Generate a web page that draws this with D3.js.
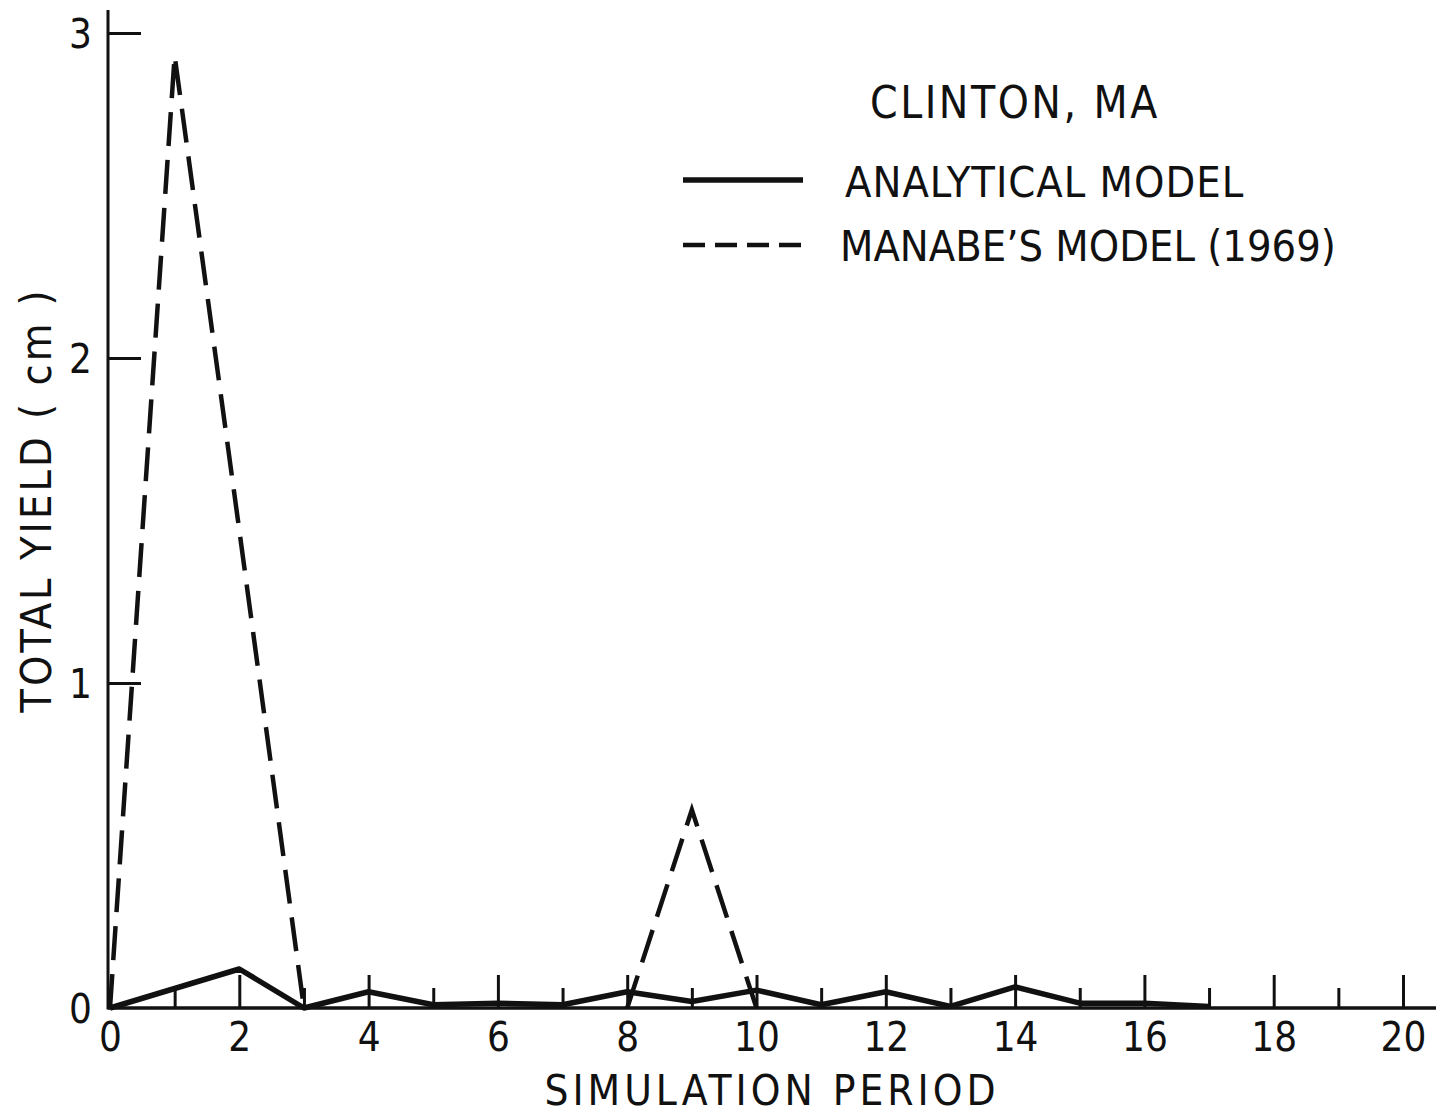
<!DOCTYPE html>
<html>
<head>
<meta charset="utf-8">
<script src="https://cdn.jsdelivr.net/npm/d3@7"></script>
<style>
  html, body { margin: 0; padding: 0; background: #fff; }
  svg { display: block; }
  text { font-family: "Liberation Sans Narrow", "DejaVu Sans Condensed", "Liberation Sans", sans-serif; fill: #111; }
</style>
</head>
<body>
<svg id="chart" width="1439" height="1115"></svg>
<script>
// Simulation periods 0..20 and yields (cm)
const periods = d3.range(0, 21);
const analyticalPeriods = d3.range(0, 18);
const analyticalYield = [0, 0.06, 0.12, 0, 0.05, 0.01, 0.015, 0.01, 0.05, 0.02, 0.055, 0.01, 0.05, 0.005, 0.065, 0.015, 0.015, 0.005];
const manabePeriods = d3.range(0, 11);
const manabeYield = [0, 2.93, 1.47, 0, 0, 0, 0, 0, 0, 0.61, 0];
const yTickValues = [0, 1, 2, 3];

const title = "CLINTON, MA";
const legendLabels = ["ANALYTICAL MODEL", "MANABE\u2019S MODEL (1969)"];
const xTitle = "SIMULATION PERIOD";
const yTitle = "TOTAL YIELD ( cm )";

const svg = d3.select("#chart");
const x = d3.scaleLinear().domain([0, 20]).range([110, 1403]);
const y = d3.scaleLinear().domain([0, 3]).range([1008, 33]);
const ink = "#111";

// axis lines
svg.append("line").attr("x1", 108).attr("x2", 1436).attr("y1", y(0)).attr("y2", y(0))
  .attr("stroke", ink).attr("stroke-width", 3.5);
svg.append("line").attr("x1", 108).attr("x2", 108).attr("y1", 10).attr("y2", y(0) + 1.5)
  .attr("stroke", ink).attr("stroke-width", 3);

// x axis: inward ticks, longer at even periods
const xAxis = d3.axisBottom(x).tickValues(periods).tickSize(0).tickPadding(0)
  .tickFormat(d => d % 2 === 0 ? d : "");
const gx = svg.append("g").attr("transform", `translate(0,${y(0)})`).call(xAxis);
gx.select(".domain").remove();
gx.selectAll(".tick line")
  .attr("y2", d => d === 0 ? 0 : (d % 2 === 0 ? -33 : -20))
  .attr("stroke", ink).attr("stroke-width", 3);
gx.selectAll(".tick text")
  .attr("y", 43).attr("dy", 0)
  .attr("font-size", 40).style("font-family", null);

// y axis: ticks to the right
const yAxis = d3.axisLeft(y).tickValues(yTickValues).tickSize(0).tickPadding(0)
  .tickFormat(d3.format("d"));
const gy = svg.append("g").attr("transform", "translate(108,0)").call(yAxis);
gy.select(".domain").remove();
gy.selectAll(".tick line").attr("x2", d => d === 0 ? 0 : 33).attr("stroke", ink).attr("stroke-width", 3);
gy.selectAll(".tick text").attr("x", -16).attr("dy", "0.36em")
  .attr("font-size", 40).style("font-family", null);

// series lines
const line = d3.line().x(d => x(d[0])).y(d => y(d[1]));
const analytical = analyticalPeriods.map((p, i) => [p, analyticalYield[i]]);
svg.append("path").attr("d", line(analytical))
  .attr("fill", "none").attr("stroke", ink).attr("stroke-width", 5.5)
  .attr("stroke-linejoin", "round");

// dashed curve drawn only where it leaves the baseline
const manabe = manabePeriods.map((p, i) => [p, manabeYield[i]]);
const runs = [];
let cur = null;
manabe.forEach((d, i) => {
  const active = d[1] > 0 || (manabe[i - 1] && manabe[i - 1][1] > 0) || (manabe[i + 1] && manabe[i + 1][1] > 0);
  if (active) { if (!cur) { cur = []; runs.push(cur); } cur.push(d); }
  else cur = null;
});
runs.forEach(r => {
  svg.append("path").attr("d", line(r))
    .attr("fill", "none").attr("stroke", ink).attr("stroke-width", 4.5)
    .attr("stroke-dasharray", "34,14").attr("stroke-linejoin", "miter");
});

// title and legend
svg.append("text").attr("x", 870).attr("y", 118).attr("font-size", 44)
  .attr("letter-spacing", 2.5).text(title);
svg.append("line").attr("x1", 683).attr("x2", 803).attr("y1", 180).attr("y2", 180)
  .attr("stroke", ink).attr("stroke-width", 5.5);
svg.append("line").attr("x1", 683).attr("x2", 805).attr("y1", 245).attr("y2", 245)
  .attr("stroke", ink).attr("stroke-width", 4.5).attr("stroke-dasharray", "22,10");
svg.append("text").attr("x", 845).attr("y", 197).attr("font-size", 43)
  .attr("letter-spacing", 1).text(legendLabels[0]);
svg.append("text").attr("x", 840).attr("y", 261).attr("font-size", 43)
  .attr("letter-spacing", 0).text(legendLabels[1]);

// axis titles
svg.append("text").attr("x", 772).attr("y", 1105).attr("text-anchor", "middle")
  .attr("font-size", 42).attr("letter-spacing", 4).text(xTitle);
svg.append("text").attr("transform", "translate(51,500) rotate(-90)")
  .attr("text-anchor", "middle").attr("font-size", 43).attr("letter-spacing", 3).text(yTitle);
</script>
</body>
</html>
